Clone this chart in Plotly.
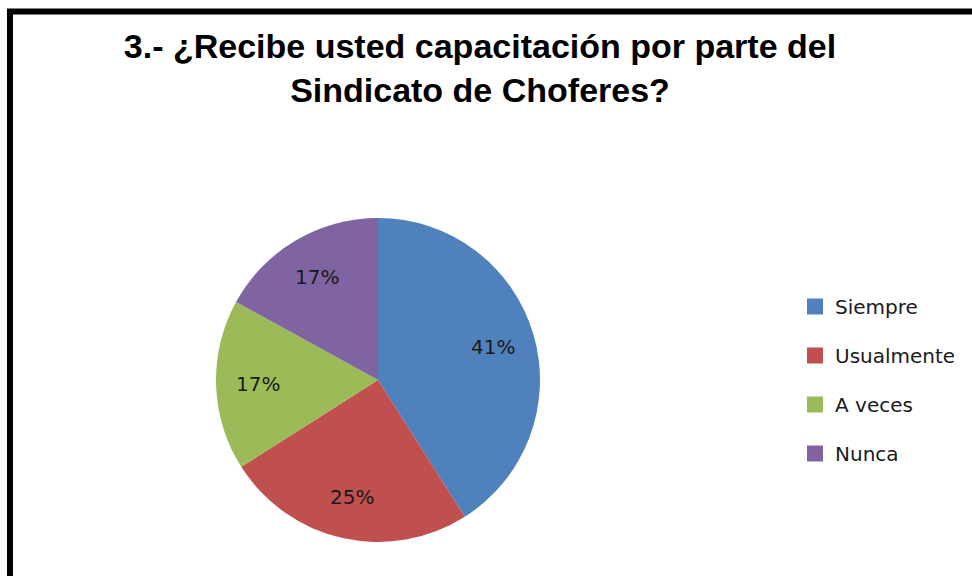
import math
import plotly.graph_objects as go

title_lines = ["3.- ¿Recibe usted capacitación por parte del", "Sindicato de Choferes?"]
categories = ["Siempre", "Usualmente", "A veces", "Nunca"]
values = [41, 25, 17, 17]
colors = ["#4F81BD", "#C0504D", "#9BBB59", "#8064A2"]

W, H = 972, 576
cx, cy, r = 378, 380, 162
label_frac = 0.74

fig = go.Figure()
fig.add_trace(go.Pie(
    labels=categories, values=values, sort=False, direction="clockwise", rotation=0,
    marker=dict(colors=colors, line=dict(width=0)),
    textinfo="none",
    domain=dict(x=[(cx - r) / W, (cx + r) / W], y=[(H - cy - r) / H, (H - cy + r) / H]),
    showlegend=False, hoverinfo="label+percent",
))
for cat, col in zip(categories, colors):
    fig.add_trace(go.Scatter(
        x=[None], y=[None], mode="markers", name=cat, legendgroup=cat,
        marker=dict(symbol="square", size=16, color=col), showlegend=True,
    ))

# percentage labels placed at the middle angle of each slice (derived from the values)
total = sum(values)
annotations = []
cum = 0
for v in values:
    mid = (cum + v / 2) / total * 2 * math.pi
    cum += v
    px = cx + label_frac * r * math.sin(mid)
    py = cy - label_frac * r * math.cos(mid)
    annotations.append(dict(
        x=px / W, y=1 - py / H, xref="paper", yref="paper", showarrow=False,
        xanchor="center", yanchor="middle",
        text=f"{round(v / total * 100)}%",
        font=dict(family="DejaVu Sans", size=20, color="#1a1a1a"),
    ))

fig.update_layout(
    width=W, height=H, margin=dict(l=0, r=0, t=0, b=0),
    paper_bgcolor="white", plot_bgcolor="white",
    xaxis=dict(visible=False), yaxis=dict(visible=False),
    title=dict(text="<br>".join(title_lines), x=480 / W, xanchor="center",
               y=1 - 58 / H, yanchor="top", yref="container",
               font=dict(family="Liberation Sans", size=34, color="black", weight="bold")),
    legend=dict(x=795 / W, xanchor="left", y=1 - 287 / H, yanchor="top",
                font=dict(family="DejaVu Sans", size=20, color="#1a1a1a"),
                tracegroupgap=20, traceorder="grouped", bgcolor="rgba(0,0,0,0)",
                itemsizing="trace"),
    annotations=annotations,
    shapes=[dict(type="rect", xref="paper", yref="paper",
                 x0=10 / W, x1=1.05, y0=-0.05, y1=1 - 11.5 / H,
                 line=dict(color="black", width=6), fillcolor="rgba(0,0,0,0)", layer="above")],
)

fig.write_html("out.html")
